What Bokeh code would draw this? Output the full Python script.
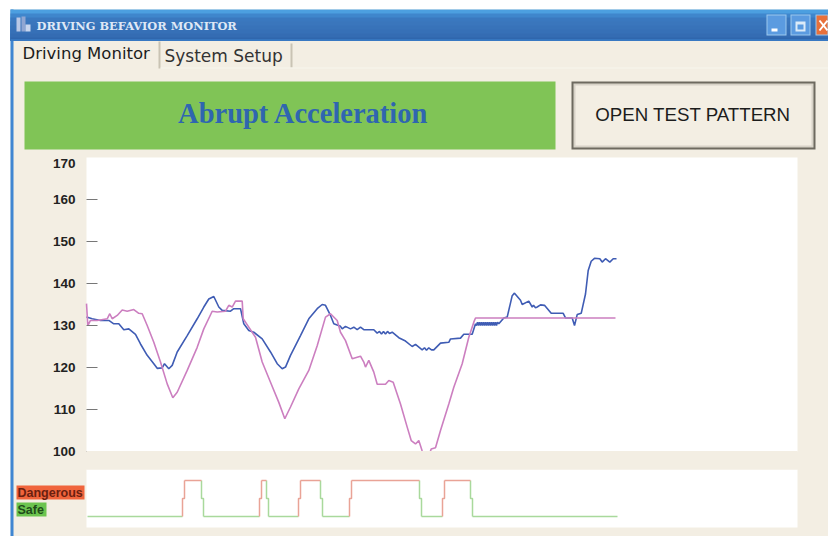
from bokeh.plotting import figure
from bokeh.models import Range1d, LinearAxis, FixedTicker
from bokeh.core.properties import value
from bokeh.embed import file_html
from bokeh.resources import INLINE

window_title = "DRIVING BEFAVIOR MONITOR"
tab_labels = ["Driving Monitor", "System Setup"]
banner_text = "Abrupt Acceleration"
button_text = "OPEN TEST PATTERN"
y_ticks = [100, 110, 120, 130, 140, 150, 160]
state_labels = ["Dangerous", "Safe"]

blue_x = [0,5.7,14,22.3,27.3,32.3,37.3,42.3,49,54,60.7,67.3,70.7,75.7,78,82.3,85.7,90.7,100.7,110.7,117.3,122.3,127.3,132.3,135.7,144,147.3,154,157.3,162.3,167.3,175.7,184,190.7,195.7,199,204,214,222.3,230.7,235.7,239,244,247.3,254,255.7,259,264,267.3,270.7,274,277.3,287.3,290.7,293,295,297,299,301,303,305.7,312.3,319,325.7,329,335.7,338,340,342.3,345,347.3,354,362.3,364,374,377.3,385.7,389,390,391,392,393,394,395,396,397,398,399,400,401,402,403,404,405,406,407,408,409,410,411,412.3,417.3,420.7,425.7,428,434,435.7,442.3,445.7,447,449,450.7,454,458,464.7,476.7,479,485.7,488,490.7,494.7,499,501.7,504.7,508,513.3,515.7,519,523.3,526.7,530]
blue_v = [132.0,131.6,131.2,131.2,130.4,130.4,129.0,129.2,127.9,125.6,122.9,120.9,119.8,119.9,120.9,119.7,120.5,123.7,127.6,131.6,134.4,136.3,136.9,134.4,133.6,133.4,134.0,134.0,130.4,128.8,128.4,126.8,123.7,120.9,119.7,120.1,122.9,127.6,131.6,134.0,135.0,134.8,132.4,130.4,129.8,129.2,129.8,129.2,129.6,129.0,129.6,129.0,129.0,128.2,128.6,128.0,128.6,128.0,128.6,128.1,128.4,127.1,126.3,125.0,125.5,124.2,124.7,124.1,124.7,124.2,124.2,125.8,126.0,126.8,127.0,127.9,127.9,130.4,130.0,130.8,130.0,130.8,130.0,130.8,130.0,130.8,130.0,130.8,130.0,130.8,130.0,130.8,130.0,130.8,130.0,130.8,130.0,130.8,130.0,130.8,130.4,131.8,132.0,137.1,137.7,136.0,135.0,135.8,134.4,134.8,134.2,134.4,134.9,134.8,132.9,132.9,131.8,131.8,130.0,132.6,132.9,137.5,143.1,145.3,146.0,145.9,145.1,145.9,145.1,145.9,145.9]
pink_x = [0,1.3,4,10.7,20.7,23.3,25.7,30.7,35.7,40.7,47.3,52.3,55.7,60.7,67.3,74,80.7,86.3,90.7,100.7,110.7,117.3,125.7,130.7,139,142.3,145.7,149,155.7,156.7,162.3,169,175.7,184,192.3,198.3,204,212.3,222.3,230.7,239,244,250.7,254,259,265.7,274,277.3,279,282.3,287.3,290.7,299,302.3,306.7,314,320.7,324.7,329,332.3,335.7,337.3,342.3,344.7,349,354,362.3,367.3,375.7,382.3,387.3,389,529]
pink_v = [135.2,130.0,131.2,131.2,131.6,132.8,131.6,132.4,133.7,133.4,133.8,132.9,132.8,130.0,126.0,121.3,116.1,112.8,114.1,119.3,124.8,129.2,133.4,133.2,133.4,134.8,134.4,135.8,135.8,131.6,129.6,127.2,121.3,116.5,111.7,107.8,110.6,114.9,119.3,125.2,132.0,132.8,131.2,128.4,126.4,122.1,122.7,121.3,120.1,121.7,118.9,116.0,116.0,116.9,116.5,111.3,105.8,102.6,101.8,102.6,100.1,99.0,99.0,100.6,100.9,105.0,111.3,115.3,120.9,127.2,130.8,131.8,131.8]

danger_start = [96, 173, 212, 263, 356]
danger_end = [115, 180, 234, 333, 384]
signal_first = 1
signal_last = 531

W, H = 828, 536
FL = 86
BEIGE = "#f3eee3"

p = figure(width=W, height=H, output_backend="svg", toolbar_location=None,
           x_range=Range1d(-FL, W - FL),
           y_range=Range1d(100 - (H - 451) / 4.2, 100 + 451 / 4.2),
           min_border_left=0, min_border_right=0, min_border_top=0, min_border_bottom=0,
           outline_line_color=None, background_fill_color="white", border_fill_color="white")
p.grid.visible = False
p.xaxis.visible = False
p.yaxis.visible = False
p.extra_x_ranges["px"] = Range1d(0, W)
p.extra_y_ranges["px"] = Range1d(H, 0)
p.extra_y_ranges["state"] = Range1d((516 - H) / 36, 516 / 36)

ax = LinearAxis(ticker=FixedTicker(ticks=y_ticks), fixed_location=0, axis_line_color=None,
                major_tick_in=11, major_tick_out=0, minor_tick_line_color=None,
                major_tick_line_color="#777777", major_tick_line_width=1,
                major_label_standoff=11, major_label_text_font="Liberation Sans",
                major_label_text_font_style="bold", major_label_text_font_size="13.5px",
                major_label_text_color="#222222")
p.add_layout(ax, "left")


def box(l, t, r, b, color, level="underlay"):
    p.quad(left=[l], right=[r], top=[t], bottom=[b], fill_color=color, line_color=None,
           x_range_name="px", y_range_name="px", level=level)


def text(x, y, s, size, color, font="Liberation Sans", style="normal", align="left"):
    p.text(x=[x], y=[y], text=[s], text_font=value(font), text_font_size=value(size),
           text_color=color, text_font_style=style, text_align=align, text_baseline="middle",
           x_range_name="px", y_range_name="px", level="annotation")


# window chrome
box(10, 9, 828, 536, BEIGE)
box(10, 9, 13, 536, "#3f86d2")
for i, c in enumerate(["#4c9fe0", "#3f86cc", "#3a78bf", "#3a76bc", "#3873b9", "#3670b7", "#346cb3", "#2f66ad"]):
    box(10, 9 + i * 4, 828, 40, c)  # nested, so no seams show between the shades
box(10, 39, 828, 40, "#3f86d2")
box(16, 17, 20, 31, "#b9c8e6"); box(21, 16, 25, 31, "#8fa6d2"); box(25, 24, 30, 31, "#c8d6ee")
for l, r, c in [(766, 786, "#5b9be0"), (790, 810, "#5b9be0"), (815, 828, "#e8703a")]:
    box(l, 14, r, 35, "#9cc8ee"); box(l + 1, 15, r - 1, 34, c)
box(771, 28, 777, 31, "white")
box(795, 21, 805, 31, "#dcebf8"); box(797, 24, 803, 29, "#5b9be0")
p.segment(x0=[819, 819], y0=[20, 30], x1=[827, 827], y1=[30, 20], line_color="white", line_width=2,
          x_range_name="px", y_range_name="px", level="underlay")
text(36, 25, window_title, "11.4px", "#dfe8f6", font="DejaVu Serif", style="bold")

# tabs
text(22, 53, tab_labels[0], "16.5px", "#1c1c1c", font="DejaVu Sans")
text(164, 55, tab_labels[1], "17px", "#333333", font="DejaVu Sans")
box(158, 41, 160, 68, "#c9c3b4")
box(290, 43, 292, 67, "#c9c3b4")
box(160, 67, 828, 68, "#f8f5ee")

# banner and button
box(24, 81, 555, 149, "#80c456")
text(303, 113, banner_text, "28.5px", "#2f66b0", font="Liberation Serif", style="bold", align="center")
box(571, 81, 815, 149, "#6e6a60")
box(573, 83, 813, 147, "#d8d3c8")
box(575, 85, 811, 145, BEIGE)
text(692.5, 114, button_text, "18.7px", "#1c1c1c", align="center")

# panels
box(86, 157, 797, 451, "white")
box(86, 469, 797, 527, "white")

# curves
p.line(blue_x, blue_v, line_color="#3f5cb4", line_width=1.6)
p.line(pink_x, pink_v, line_color="#cc7fc0", line_width=1.6)

# state trace: each edge has a small jog half way
rise_xs, rise_ss, top_xs, top_ss, fall_xs, fall_ss, low_xs, low_ss = [], [], [], [], [], [], [], []
cur = signal_first
for a, b in zip(danger_start, danger_end):
    low_xs.append([cur, a]); low_ss.append([0, 0])
    rise_xs.append([a, a, a + 2, a + 2]); rise_ss.append([0, 0.5, 0.5, 1])
    top_xs.append([a + 2, b]); top_ss.append([1, 1])
    fall_xs.append([b, b, b + 2, b + 2]); fall_ss.append([1, 0.5, 0.5, 0])
    cur = b + 2
low_xs.append([cur, signal_last]); low_ss.append([0, 0])
p.multi_line(low_xs, low_ss, line_color="#a9d99c", line_width=1.5, y_range_name="state")
p.multi_line(fall_xs, fall_ss, line_color="#a9d99c", line_width=1.5, y_range_name="state")
p.multi_line(rise_xs, rise_ss, line_color="#e9a396", line_width=1.5, y_range_name="state")
p.multi_line(top_xs, top_ss, line_color="#e9a396", line_width=1.5, y_range_name="state")

# band between the two panels hides what runs past the bottom of the upper panel
box(86, 450.5, 797, 469, BEIGE, level="annotation")

# state legend
box(16, 485, 84, 499, "#f0643c", level="annotation")
box(16, 502, 46, 516, "#6cc44f", level="annotation")
text(17, 492.5, state_labels[0], "12.5px", "#6a2010", style="bold")
text(17, 509.5, state_labels[1], "12.5px", "#1f4d1a", style="bold")

# top tick label sits below its nominal spot
text(75, 163, "170", "13.5px", "#222222", style="bold", align="right")

open("out.html", "w").write(file_html(p, INLINE))
